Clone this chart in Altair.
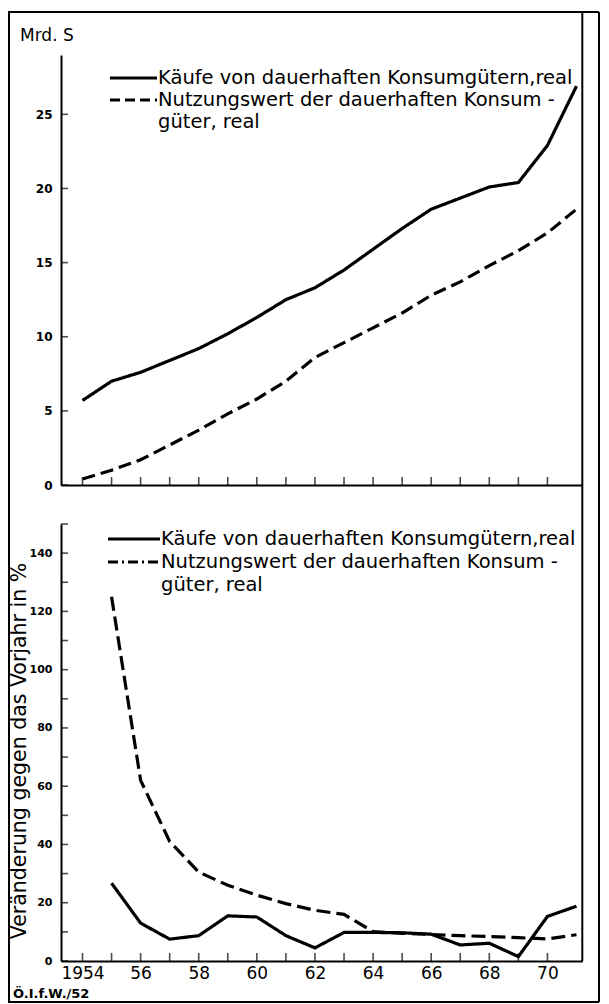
import altair as alt
import pandas as pd

# ---------------- data ----------------
years = list(range(1954, 1972))
top_kaeufe = [5.7, 7.0, 7.6, 8.4, 9.2, 10.2, 11.3, 12.5, 13.3, 14.5, 15.9, 17.3,
              18.6, 19.35, 20.1, 20.4, 22.9, 26.9]
top_nutzung = [0.4, 1.0, 1.7, 2.7, 3.7, 4.8, 5.8, 7.0, 8.6, 9.6, 10.6, 11.6,
               12.8, 13.7, 14.8, 15.8, 17.0, 18.6]

bot_years = list(range(1955, 1972))
bot_kaeufe = [26.7, 13.0, 7.5, 8.7, 15.5, 15.1, 8.7, 4.5, 9.8, 9.8, 9.7, 9.2,
              5.5, 6.1, 1.5, 15.3, 18.8]
bot_nutzung = [125.0, 62.0, 41.0, 30.5, 26.0, 22.6, 19.7, 17.4, 16.0, 10.1, 9.5,
               9.1, 8.7, 8.4, 8.0, 7.6, 9.0]

series = ["Käufe", "Nutzungswert"]
legend_lines = ["Käufe von dauerhaften Konsumgütern,real",
                "Nutzungswert der dauerhaften Konsum -",
                "güter, real"]
y_unit_top = "Mrd. S"
y_title_bot = "Veränderung gegen das Vorjahr in %"
source_note = "Ö.I.f.W./52"

x_tick_years = list(range(1954, 1971))
x_label_years = list(range(1954, 1971, 2))
top_y_ticks = [0, 5, 10, 15, 20, 25]
bot_y_ticks = list(range(0, 151, 10))
bot_y_labels = list(range(0, 141, 20))

# ---------------- layout (pixels inside the chart) ----------------
W, H = 593, 996
X0, X1 = 53, 574.3
XDOM = [1953.26, 1971.2]
TOP_RANGE, TOP_DOM = [477, 47], [0, 29]
BOT_RANGE, BOT_DOM = [953, 516], [0, 150]
FONT = "DejaVu Sans"

dash_scale_top = alt.Scale(domain=series, range=[[1, 0], [13, 6]])
dash_scale_bot = alt.Scale(domain=series, range=[[1, 0], [14, 6]])


def panel(df, yrange, ydom, ytick_vals, ylabel_vals, ylabel_size, show_x_labels, dash_scale):
    x_enc = alt.X(
        "Jahr:Q",
        scale=alt.Scale(domain=XDOM, range=[X0, X1], zero=False, nice=False),
        axis=alt.Axis(
            orient="bottom", offset=yrange[0] - H, title=None, grid=False,
            ticks=False, labels=show_x_labels, values=x_label_years,
            labelExpr="datum.value == 1954 ? '1954' : substring(toString(datum.value), 2)",
            labelFontSize=17, labelPadding=4, labelFont=FONT, labelColor="black",
            domainColor="black", domainWidth=2, labelFlush=False, labelOverlap=False,
        ),
    )
    y_enc = alt.Y(
        "Wert:Q",
        scale=alt.Scale(domain=ydom, range=yrange, zero=False, nice=False),
        axis=alt.Axis(
            orient="left", offset=-X0, title=None, grid=False, ticks=False,
            values=ylabel_vals, labelFontSize=ylabel_size, labelFontWeight="bold",
            labelPadding=9, labelFont=FONT, labelColor="black",
            domainColor="black", domainWidth=2, labelFlush=False, labelOverlap=False,
        ),
    )
    lines = alt.Chart(df).mark_line(color="black", strokeWidth=3.2, strokeCap="butt").encode(
        x=x_enc, y=y_enc,
        strokeDash=alt.StrokeDash("Reihe:N", scale=dash_scale, legend=None),
        detail="Reihe:N",
    )
    xt = pd.DataFrame({"Jahr": x_tick_years, "Wert": [ydom[0]] * len(x_tick_years)})
    xticks = alt.Chart(xt).mark_tick(orient="vertical", size=8, thickness=1.6,
                                     color="black", yOffset=-4).encode(x=x_enc, y=y_enc)
    yt = pd.DataFrame({"Jahr": [XDOM[0]] * len(ytick_vals), "Wert": ytick_vals})
    yticks = alt.Chart(yt).mark_tick(orient="horizontal", size=7, thickness=1.6,
                                     color="black", xOffset=3.5).encode(x=x_enc, y=y_enc)
    return alt.layer(lines, xticks, yticks)


top_df = pd.DataFrame({
    "Jahr": years + years,
    "Wert": top_kaeufe + top_nutzung,
    "Reihe": [series[0]] * len(years) + [series[1]] * len(years),
})
bot_df = pd.DataFrame({
    "Jahr": bot_years + bot_years,
    "Wert": bot_kaeufe + bot_nutzung,
    "Reihe": [series[0]] * len(bot_years) + [series[1]] * len(bot_years),
})

top_panel = panel(top_df, TOP_RANGE, TOP_DOM, top_y_ticks, top_y_ticks, 12, False, dash_scale_top)
bot_panel = panel(bot_df, BOT_RANGE, BOT_DOM, bot_y_ticks, bot_y_labels, 11, True, dash_scale_bot)

one = pd.DataFrame({"k": [0]})


def hrule(x1, x2, y, width=2, dash=None):
    kw = dict(color="black", strokeWidth=width)
    if dash is not None:
        kw["strokeDash"] = dash
    return alt.Chart(one).mark_rule(**kw).encode(x=alt.value(x1), x2=alt.value(x2), y=alt.value(y))


def vrule(x, y1, y2, width=2):
    return alt.Chart(one).mark_rule(color="black", strokeWidth=width).encode(
        x=alt.value(x), y=alt.value(y1), y2=alt.value(y2))


def label(txt, x, y, size, align="left", weight="normal", angle=0):
    kw = dict(align=align, baseline="middle", fontSize=size, font=FONT,
              fontWeight=weight, color="black")
    if angle:
        kw["angle"] = angle
    return alt.Chart(one).mark_text(**kw).encode(
        x=alt.value(x), y=alt.value(y), text=alt.value(txt))


LEG = 19.5
deco = [
    # frame
    hrule(0, 591, 4), hrule(0, 591, 994), vrule(1, 4, 994), vrule(591, 4, 994),
    vrule(X1, 4, BOT_RANGE[0]),
    # top legend
    hrule(102, 149, 70, 3), hrule(102, 149, 92, 3, [10, 5]),
    label(legend_lines[0], 150, 70, LEG), label(legend_lines[1], 150, 92, LEG),
    label(legend_lines[2], 150, 114, LEG),
    # bottom legend
    hrule(100, 152, 531, 3), hrule(100, 152, 554, 3, [10, 4, 2, 4]),
    label(legend_lines[0], 153, 531, LEG), label(legend_lines[1], 153, 554, LEG),
    label(legend_lines[2], 153, 577, LEG),
    # texts
    label(y_unit_top, 12, 28, 17),
    label(y_title_bot, 12, 743, 20.5, align="center", angle=270),
    label(source_note, 5, 986, 13, weight="bold"),
]

chart = alt.layer(top_panel, bot_panel, *deco).resolve_scale(
    x="independent", y="independent", strokeDash="independent"
).properties(
    width=W, height=H, padding=0,
    autosize=alt.AutoSizeParams(type="none"),
).configure_view(stroke=None)

chart.save("out.html", embed_options={"renderer": "svg", "actions": False})
